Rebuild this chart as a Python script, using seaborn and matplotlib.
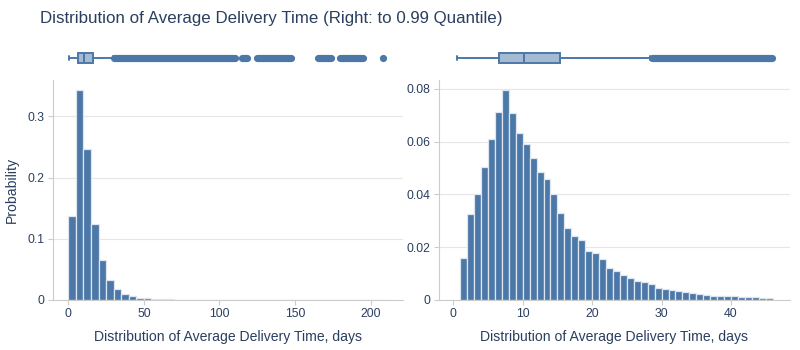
import numpy as np
import pandas as pd
import matplotlib
matplotlib.use("Agg")
import matplotlib.pyplot as plt
import seaborn as sns

# ---------------- data ----------------
title = "Distribution of Average Delivery Time (Right: to 0.99 Quantile)"
x_label = "Distribution of Average Delivery Time, days"
y_label = "Probability"

# left: full data, bins of 5 days starting at 0
left_bin_start = 0
left_bin_width = 5
left_probs = [0.1377, 0.343, 0.246, 0.125, 0.066, 0.033, 0.0175, 0.0100, 0.0065, 0.0040,
              0.0025, 0.0017, 0.0012, 0.0009, 0.0007, 0.0005, 0.0004, 0.0003, 0.0003, 0.0002,
              0.0002, 0.0001, 0.0001, 0.0001, 0.0001, 0.0001, 0.0001, 0.0001, 0.0001, 0.0,
              0.0, 0.0001, 0.0, 0.0001, 0.0001, 0.0, 0.0001, 0.0001, 0.0001, 0.0,
              0.0, 0.0001]

# right: data up to the 0.99 quantile, bins of 1 day starting at 1
right_bin_start = 1
right_bin_width = 1
right_probs = [0.0158, 0.0327, 0.0400, 0.0503, 0.0609, 0.0711, 0.0795, 0.0709, 0.0632, 0.0591,
               0.0538, 0.0487, 0.0459, 0.0401, 0.0330, 0.0272, 0.0244, 0.0227, 0.0187, 0.0178,
               0.0154, 0.0123, 0.0110, 0.0095, 0.0084, 0.0073, 0.0067, 0.0059, 0.0047, 0.0042,
               0.0037, 0.0033, 0.0030, 0.0028, 0.0023, 0.0019, 0.0016, 0.0016, 0.0014, 0.0014,
               0.0011, 0.0010, 0.0010, 0.0009, 0.0009]

# box plot summaries (min whisker, q1, median, q3, max whisker)
left_box = [0.5, 6.6, 10.4, 16.1, 29.5]
right_box = [0.5, 6.63, 10.14, 15.42, 28.4]
# outliers: dense runs (start, end) and isolated points
left_outlier_runs = [(30, 110), (115, 118), (125, 147.5), (165.5, 174), (180, 195)]
left_outlier_points = [208.5]
right_outlier_runs = [(28.6, 45.9)]
right_outlier_points = []

left_yticks = [0, 0.1, 0.2, 0.3]
left_yticklabels = ["0", "0.1", "0.2", "0.3"]
right_yticks = [0, 0.02, 0.04, 0.06, 0.08]
right_yticklabels = ["0", "0.02", "0.04", "0.06", "0.08"]
left_xticks = [0, 50, 100, 150, 200]
right_xticks = [0, 10, 20, 30, 40]

# ---------------- style ----------------
BLUE = "#4C78A8"
BOX_FILL = "#A5BBD3"
EDGE = "#dde6f0"
TEXT = "#2a3f5f"
GRID = "#e6e6e6"
AXIS = "#cccccc"

sns.set_theme(style="white")
plt.rcParams["font.family"] = ["Liberation Sans", "DejaVu Sans"]
plt.rcParams["text.color"] = TEXT
plt.rcParams["axes.labelcolor"] = TEXT
plt.rcParams["xtick.color"] = TEXT
plt.rcParams["ytick.color"] = TEXT

W, H = 800, 350
fig = plt.figure(figsize=(W / 100, H / 100), dpi=100)


def frac(x0, y0, x1, y1):
    return [x0 / W, 1 - y1 / H, (x1 - x0) / W, (y1 - y0) / H]


def draw_panel(rect_hist, rect_box, probs, start, width, box, runs, points,
               xlim, ylim, xticks, yticks, yticklabels, show_ylabel):
    ax = fig.add_axes(rect_hist)
    n = len(probs)
    edges = [start + i * width for i in range(n + 1)]
    centers = [start + (i + 0.5) * width for i in range(n)]
    df = pd.DataFrame({"x": centers, "w": probs})
    sns.histplot(data=df, x="x", weights="w", bins=edges, ax=ax, color=BLUE,
                 edgecolor=EDGE, linewidth=0.9, alpha=1.0)
    ax.set_xlim(*xlim)
    ax.set_ylim(*ylim)
    ax.set_xticks(xticks)
    ax.set_xticklabels([str(t) for t in xticks])
    ax.set_yticks(yticks)
    ax.set_yticklabels(yticklabels)
    ax.grid(axis="y", color=GRID, linewidth=0.8)
    ax.set_axisbelow(True)
    for s in ["top", "right"]:
        ax.spines[s].set_visible(False)
    for s in ["left", "bottom"]:
        ax.spines[s].set_color(AXIS)
        ax.spines[s].set_linewidth(0.8)
    ax.tick_params(axis="both", which="major", length=3.6, width=0.8, color=AXIS,
                   labelsize=8.8, pad=2.5, labelcolor=TEXT, direction="out",
                   bottom=True, left=True)
    ax.set_xlabel(x_label, fontsize=10.1, color=TEXT, labelpad=6.5)
    if show_ylabel:
        ax.set_ylabel(y_label, fontsize=10.1, color=TEXT, labelpad=6)
    else:
        ax.set_ylabel("")

    bx = fig.add_axes(rect_box, sharex=ax)
    stats = [dict(whislo=box[0], q1=box[1], med=box[2], q3=box[3], whishi=box[4], fliers=[])]
    bx.bxp(stats, positions=[0], widths=0.95, vert=False, patch_artist=True,
           showfliers=False, capwidths=0.4,
           boxprops=dict(facecolor=BOX_FILL, edgecolor=BLUE, linewidth=1.4),
           medianprops=dict(color=BLUE, linewidth=1.4),
           whiskerprops=dict(color=BLUE, linewidth=1.4),
           capprops=dict(color=BLUE, linewidth=1.4))
    for a, b in runs:
        bx.plot([a, b], [0, 0], color=BLUE, linewidth=5.2, solid_capstyle="round")
    if points:
        sns.scatterplot(x=points, y=[0] * len(points), ax=bx, color=BLUE, s=27,
                        linewidth=0)
    bx.set_ylim(-1, 1)
    bx.set_xlim(*xlim)
    bx.axis("off")
    return ax


draw_panel(frac(53, 80, 403, 300), frac(53, 48, 403, 68), left_probs, left_bin_start,
           left_bin_width, left_box, left_outlier_runs, left_outlier_points,
           (-10.1, 221.4), (0, 0.3596), left_xticks, left_yticks, left_yticklabels, True)
draw_panel(frac(439, 80, 790, 300), frac(439, 48, 790, 68), right_probs, right_bin_start,
           right_bin_width, right_box, right_outlier_runs, right_outlier_points,
           (-2.06, 48.5), (0, 0.0834), right_xticks, right_yticks, right_yticklabels, False)

fig.text(40 / W, 1 - 19 / H, title, fontsize=12.15, color=TEXT, ha="left", va="center")

fig.savefig("out.png", dpi=100)
